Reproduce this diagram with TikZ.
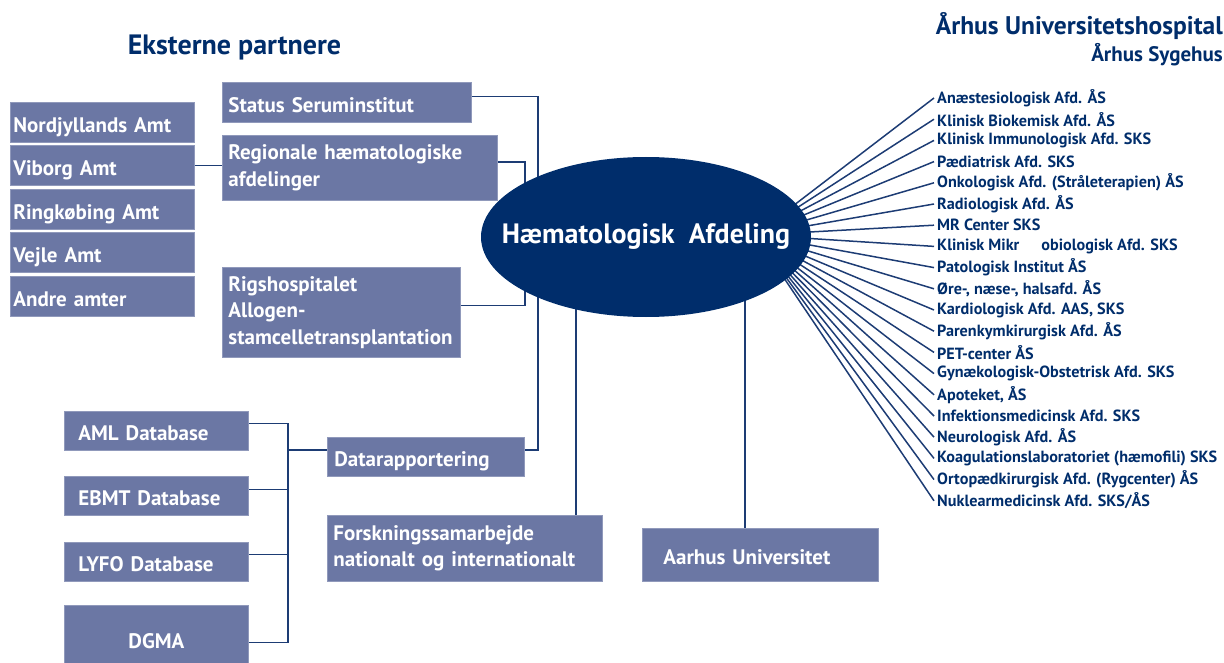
\documentclass[tikz,border=0pt]{standalone}
\usepackage{fontspec}
\setmainfont{PT Sans}
\usetikzlibrary{shapes.geometric,backgrounds}
\definecolor{boxblue}{HTML}{6B77A4}
\definecolor{navy}{HTML}{002D6B}
\definecolor{linkblue}{HTML}{1D3C74}
\tikzset{
  partbox/.style={fill=boxblue, draw=boxblue!75!white, line width=0.8pt, text=white,
    anchor=north west, align=left, inner ysep=0pt,
    font=\bfseries\fontsize{21}{26.5}\selectfont},
  oneline/.style={text height=21pt, text depth=1pt},
  link/.style={draw=linkblue, line width=1.5pt},
  dept/.style={anchor=west, inner sep=3pt, text=navy,
    font=\bfseries\fontsize{16.2}{18}\selectfont}
}
\begin{document}
\begin{tikzpicture}[x=1pt,y=-1pt]
\useasboundingbox (0,0) rectangle (1224,663);
% headings
\node[anchor=base, inner sep=0, text=navy, font=\bfseries\fontsize{28}{30}\selectfont] (ext) at (234.5,55) {Eksterne partnere};
\node[anchor=base east, inner sep=0, text=navy, font=\bfseries\fontsize{25.5}{28}\selectfont] (auh) at (1223,35) {Århus Universitetshospital};
\node[anchor=base east, inner sep=0, text=navy, font=\bfseries\fontsize{21}{24}\selectfont] (aas) at (1223,62) {Århus Sygehus};

% amter
\node[partbox, oneline, minimum width=184pt, minimum height=40pt, inner xsep=3pt, text width=178pt] (nord) at (10,102) {Nordjyllands Amt};
\node[partbox, oneline, minimum width=184pt, minimum height=40pt, inner xsep=3pt, text width=178pt] (viborg) at (10,145) {Viborg Amt};
\node[partbox, oneline, minimum width=184pt, minimum height=40pt, inner xsep=3pt, text width=178pt] (ringk) at (10,189) {Ringkøbing Amt};
\node[partbox, oneline, minimum width=184pt, minimum height=40pt, inner xsep=3pt, text width=178pt] (vejle) at (10,232) {Vejle Amt};
\node[partbox, oneline, minimum width=184pt, minimum height=40pt, inner xsep=3pt, text width=178pt] (andre) at (10,276) {Andre amter};

% partnere
\node[partbox, oneline, minimum height=40pt, inner xsep=6pt, text width=237pt] (status) at (222,82) {Status Seruminstitut};
\node[partbox, minimum height=65pt, inner xsep=6pt, text width=263pt] (region) at (222,135) {Regionale hæmatologiske\\afdelinger};
\node[partbox, minimum height=90pt, inner xsep=6pt, text width=226pt] (rigs) at (222,267) {Rigshospitalet\\Allogen-\\stamcelletransplantation};

% databaser
\node[partbox, oneline, minimum height=39pt, inner xsep=14pt, text width=156pt] (aml) at (64,411) {AML Database};
\node[partbox, oneline, minimum height=39pt, inner xsep=14pt, text width=156pt] (ebmt) at (64,476) {EBMT Database};
\node[partbox, oneline, minimum height=39pt, inner xsep=14pt, text width=156pt] (lyfo) at (64,542) {LYFO Database};
\node[partbox, oneline, minimum height=66pt, inner xsep=14pt, text width=156pt, align=center] (dgma) at (64,605) {DGMA};
\node[partbox, oneline, minimum height=39pt, inner xsep=7pt, text width=183pt] (data) at (327,437) {Datarapportering};
\node[partbox, minimum height=66pt, inner xsep=6pt, text width=263pt] (forsk) at (327,515) {Forskningssamarbejde\\nationalt og internationalt};
\node[partbox, oneline, minimum height=53pt, inner xsep=21pt, text width=194pt] (aarhus) at (642,528) {Aarhus Universitet};

% afdelingen
\node[ellipse, fill=navy, inner sep=0, minimum width=330pt, minimum height=160pt, text=white,
  font=\bfseries\fontsize{28}{32}\selectfont] (haem) at (646,237) {\makebox[0pt]{Hæmatologisk\ \ Afdeling}};

% afdelinger paa AUH
\foreach \t [count=\i] in {Anæstesiologisk Afd. ÅS, Klinisk Biokemisk Afd. ÅS,
  Klinisk Immunologisk Afd. SKS, Pædiatrisk Afd. SKS, Onkologisk Afd. (Stråleterapien) ÅS,
  Radiologisk Afd. ÅS, MR Center SKS, Klinisk Mikr\hspace{22pt}obiologisk Afd. SKS,
  Patologisk Institut ÅS, {Øre-, næse-, halsafd. ÅS}, {Kardiologisk Afd. AAS, SKS},
  Parenkymkirurgisk Afd. ÅS, PET-center ÅS, Gynækologisk-Obstetrisk Afd. SKS,
  {Apoteket, ÅS}, Infektionsmedicinsk Afd. SKS, Neurologisk Afd. ÅS,
  Koagulationslaboratoriet (hæmofili) SKS, Ortopædkirurgisk Afd. (Rygcenter) ÅS,
  Nuklearmedicinsk Afd. SKS/ÅS}
  \node[dept] (d\i) at (934,{98+21.2*(\i-1)}) {\t};

\coordinate (hub) at (755,235);

\begin{scope}[on background layer]
  \foreach \i in {1,...,20}
    \draw[link] (hub) -- (d\i.west);
  % eksterne
  \draw[link] (viborg.east) -- (viborg.east -| region.west);
  \draw[link] ([yshift=6pt]status.east) -- ++(66,0) |- ([yshift=7pt]data.east);
  \draw[link] ([yshift=6pt]region.east) -- ++(27,0) |- ([yshift=7pt]rigs.east);
  \draw[link] (forsk.north -| 576,0) -- (576,237);
  \draw[link] (aarhus.north -| 745,0) -- (745,237);
  % databaser
  \draw[link] ([yshift=7.5pt]aml.east) -- ++(39,0) |- ([yshift=-4pt]dgma.east);
  \draw[link] ([yshift=6.5pt]ebmt.east) -- ++(39,0);
  \draw[link] ([yshift=7.5pt]lyfo.east) -- ++(39,0);
  \draw[link] ([yshift=7pt]data.west) -- ++(-40,0);
\end{scope}
\end{tikzpicture}
\end{document}
